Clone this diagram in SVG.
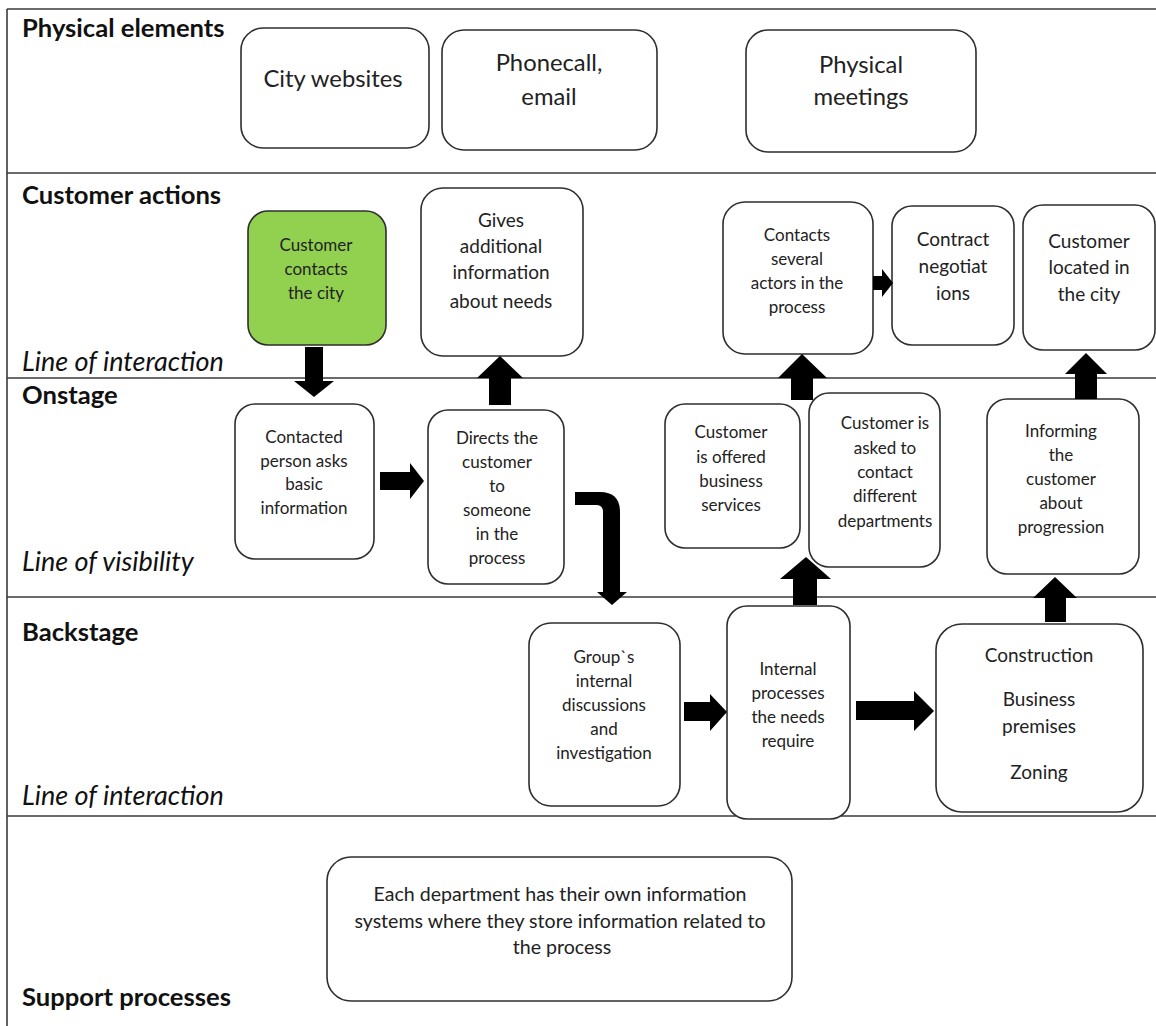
<svg xmlns="http://www.w3.org/2000/svg" width="1156" height="1026" viewBox="0 0 1156 1026">
  <style>
    .lane { stroke: #3a3a3a; stroke-width: 1.6; fill: none; }
    .box { fill: #ffffff; stroke: #2e2e2e; stroke-width: 1.6; }
    .green { fill: #92d050; }
    .head { font-family: Lato, "Liberation Sans", sans-serif; font-weight: bold; font-size: 25.6px; fill: #111; }
    .line { font-family: Lato, "Liberation Sans", sans-serif; font-style: italic; font-size: 27px; fill: #111; }
    .big { font-family: Lato, "Liberation Sans", sans-serif; font-size: 23.8px; fill: #222; text-anchor: middle; }
    .txt { font-family: Lato, "Liberation Sans", sans-serif; font-size: 17px; fill: #222; text-anchor: middle; }
    .mid { font-family: Lato, "Liberation Sans", sans-serif; font-size: 19px; fill: #222; text-anchor: middle; }
    .sup { font-family: Lato, "Liberation Sans", sans-serif; font-size: 19.6px; fill: #222; text-anchor: middle; }
    .arrow { fill: #000; }
  </style>

  <rect x="0" y="0" width="1156" height="1026" fill="#ffffff"/>

  <!-- swimlane frame -->
  <g id="lanes">
    <line class="lane" x1="7" y1="9" x2="1156" y2="9"/>
    <line class="lane" x1="7" y1="173" x2="1156" y2="173"/>
    <line class="lane" x1="7" y1="378" x2="1156" y2="378"/>
    <line class="lane" x1="7" y1="597" x2="1156" y2="597"/>
    <line class="lane" x1="7" y1="816" x2="1156" y2="816"/>
    <line class="lane" x1="7" y1="9" x2="7" y2="1026"/>
  </g>

  <!-- lane titles -->
  <g id="lane-labels">
    <text class="head" x="22" y="37">Physical elements</text>
    <text class="head" x="22" y="204">Customer actions</text>
    <text class="line" x="22" y="371">Line of interaction</text>
    <text class="head" x="22" y="404">Onstage</text>
    <text class="line" x="22" y="571">Line of visibility</text>
    <text class="head" x="22" y="641">Backstage</text>
    <text class="line" x="22" y="805">Line of interaction</text>
    <text class="head" x="22" y="1006">Support processes</text>
  </g>

  <!-- physical elements -->
  <g id="city-websites">
    <rect class="box" x="241" y="28" width="188" height="120" rx="22"/>
    <text class="big" x="333" y="87">City websites</text>
  </g>
  <g id="phonecall-email">
    <rect class="box" x="442" y="30" width="215" height="120" rx="22"/>
    <text class="big" x="549" y="71">Phonecall,</text>
    <text class="big" x="549" y="105">email</text>
  </g>
  <g id="physical-meetings">
    <rect class="box" x="746" y="30" width="230" height="122" rx="22"/>
    <text class="big" x="861" y="73">Physical</text>
    <text class="big" x="861" y="105">meetings</text>
  </g>

  <!-- customer actions -->
  <g id="customer-contacts">
    <rect class="box green" x="248" y="211" width="138" height="134" rx="20"/>
    <text class="txt" x="316" y="251">Customer</text>
    <text class="txt" x="316" y="275">contacts</text>
    <text class="txt" x="316" y="299">the city</text>
  </g>
  <g id="gives-information">
    <rect class="box" x="421" y="188" width="162" height="168" rx="22"/>
    <text class="mid" x="501" y="227">Gives</text>
    <text class="mid" x="501" y="253">additional</text>
    <text class="mid" x="501" y="279">information</text>
    <text class="mid" x="501" y="308">about needs</text>
  </g>
  <g id="contacts-several">
    <rect class="box" x="723" y="202" width="150" height="152" rx="22"/>
    <text class="txt" x="797" y="241">Contacts</text>
    <text class="txt" x="797" y="265">several</text>
    <text class="txt" x="797" y="289">actors in the</text>
    <text class="txt" x="797" y="313">process</text>
  </g>
  <g id="contract-negotiations">
    <rect class="box" x="892" y="206" width="122" height="139" rx="20"/>
    <text class="mid" x="953" y="246">Contract</text>
    <text class="mid" x="953" y="273">negotiat</text>
    <text class="mid" x="953" y="300">ions</text>
  </g>
  <g id="customer-located">
    <rect class="box" x="1023" y="205" width="132" height="145" rx="20"/>
    <text class="mid" x="1089" y="248">Customer</text>
    <text class="mid" x="1089" y="274">located in</text>
    <text class="mid" x="1089" y="301">the city</text>
  </g>

  <!-- onstage -->
  <g id="contacted-person">
    <rect class="box" x="235" y="404" width="139" height="155" rx="20"/>
    <text class="txt" x="304" y="443">Contacted</text>
    <text class="txt" x="304" y="467">person asks</text>
    <text class="txt" x="304" y="490">basic</text>
    <text class="txt" x="304" y="514">information</text>
  </g>
  <g id="directs-customer">
    <rect class="box" x="428" y="410" width="136" height="174" rx="20"/>
    <text class="txt" x="497" y="444">Directs the</text>
    <text class="txt" x="497" y="468">customer</text>
    <text class="txt" x="497" y="492">to</text>
    <text class="txt" x="497" y="516">someone</text>
    <text class="txt" x="497" y="540">in the</text>
    <text class="txt" x="497" y="564">process</text>
  </g>
  <g id="offered-services">
    <rect class="box" x="665" y="404" width="135" height="144" rx="20"/>
    <text class="txt" x="731" y="438">Customer</text>
    <text class="txt" x="731" y="463">is offered</text>
    <text class="txt" x="731" y="487">business</text>
    <text class="txt" x="731" y="511">services</text>
  </g>
  <g id="asked-to-contact">
    <rect class="box" x="809" y="393" width="131" height="174" rx="20"/>
    <text class="txt" x="885" y="429">Customer is</text>
    <text class="txt" x="885" y="454">asked to</text>
    <text class="txt" x="885" y="478">contact</text>
    <text class="txt" x="885" y="502">different</text>
    <text class="txt" x="885" y="527">departments</text>
  </g>
  <g id="informing-customer">
    <rect class="box" x="987" y="399" width="152" height="175" rx="20"/>
    <text class="txt" x="1061" y="437">Informing</text>
    <text class="txt" x="1061" y="461">the</text>
    <text class="txt" x="1061" y="485">customer</text>
    <text class="txt" x="1061" y="509">about</text>
    <text class="txt" x="1061" y="533">progression</text>
  </g>

  <!-- backstage -->
  <g id="group-discussions">
    <rect class="box" x="529" y="623" width="151" height="183" rx="22"/>
    <text class="txt" x="604" y="663">Group`s</text>
    <text class="txt" x="604" y="687">internal</text>
    <text class="txt" x="604" y="711">discussions</text>
    <text class="txt" x="604" y="735">and</text>
    <text class="txt" x="604" y="759">investigation</text>
  </g>
  <g id="internal-processes">
    <rect class="box" x="727" y="606" width="123" height="213" rx="20"/>
    <text class="txt" x="788" y="675">Internal</text>
    <text class="txt" x="788" y="699">processes</text>
    <text class="txt" x="788" y="723">the needs</text>
    <text class="txt" x="788" y="747">require</text>
  </g>
  <g id="construction">
    <rect class="box" x="936" y="624" width="207" height="188" rx="26"/>
    <text class="mid" x="1039" y="662">Construction</text>
    <text class="mid" x="1039" y="706">Business</text>
    <text class="mid" x="1039" y="733">premises</text>
    <text class="mid" x="1039" y="779">Zoning</text>
  </g>

  <!-- support processes -->
  <g id="information-systems">
    <rect class="box" x="327" y="857" width="465" height="144" rx="24"/>
    <text class="sup" x="560" y="901">Each department has their own information</text>
    <text class="sup" x="560" y="928">systems where they store information related to</text>
    <text class="sup" x="562" y="954">the process</text>
  </g>

  <!-- block arrows -->
  <g id="connectors">
    <!-- customer contacts -> contacted person -->
    <path class="arrow" d="M305,347 H323 V381 H334 L314,397 L294,381 H305 Z"/>
    <!-- directs -> gives information -->
    <path class="arrow" d="M489,405 V378 H477 L500,356 L523,378 H511 V405 Z"/>
    <!-- contacted person -> directs -->
    <path class="arrow" d="M380,472 H410 V463 L424,481 L410,499 V490 H380 Z"/>
    <!-- directs -> group discussions (bent) -->
    <path class="arrow" d="M575,492 H600 Q620,492 620,512 V592 H627 L612,605 L597,592 H603 V512 Q603,505 596,505 H575 Z"/>
    <!-- asked to contact -> contacts several -->
    <path class="arrow" d="M791,400 V378 H778 L802,354 L827,378 H813 V400 Z"/>
    <!-- internal processes -> asked to contact -->
    <path class="arrow" d="M793,605 V579 H780 L806,557 L831,579 H817 V605 Z"/>
    <!-- contacts several -> contract negotiations -->
    <path class="arrow" d="M873,276 H882 V269 L893,283 L882,297 V290 H873 Z"/>
    <!-- informing -> customer located -->
    <path class="arrow" d="M1075,399 V374 H1065 L1086,353 L1107,374 H1097 V399 Z"/>
    <!-- construction -> informing -->
    <path class="arrow" d="M1045,622 V598 H1033 L1055,577 L1077,598 H1066 V622 Z"/>
    <!-- group discussions -> internal processes -->
    <path class="arrow" d="M684,702 H710 V694 L727,712 L710,731 V721 H684 Z"/>
    <!-- internal processes -> construction -->
    <path class="arrow" d="M856,701 H914 V691 L934,711 L914,731 V720 H856 Z"/>
  </g>
</svg>
